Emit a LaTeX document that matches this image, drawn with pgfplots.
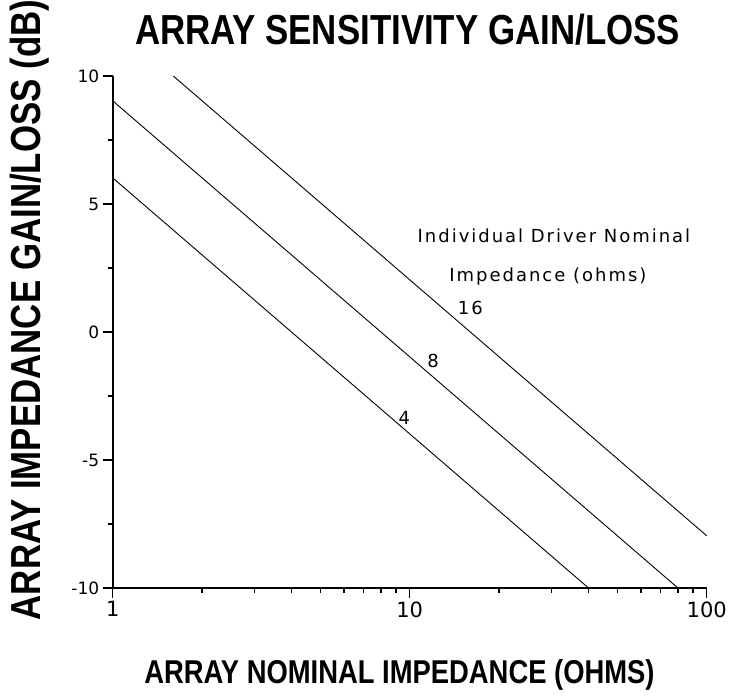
\documentclass[border=0pt]{standalone}
\usepackage{graphicx}
\usepackage{pgfplots}
\pgfplotsset{compat=1.18}
\usepackage{fontspec}
\setmainfont{Liberation Sans}
\newfontfamily\dejavu{DejaVu Sans}
\newfontfamily\dejavusp[LetterSpace=11]{DejaVu Sans}
\begin{document}
\begin{tikzpicture}[x=1pt,y=1pt]
\path[use as bounding box] (-112.7,-110) rectangle (617.3,588);
\begin{axis}[at={(0,0)}, anchor=south west, scale only axis, width=594pt, height=512pt,
 xmode=log, xmin=1, xmax=100, ymin=-10, ymax=10,
 axis x line=bottom, axis y line=left, axis line style={-, line width=1.9pt},
 xtick={1,10,100}, xticklabels={1,10,100},
 minor xtick={2,3,4,5,6,7,8,9,20,30,40,50,60,70,80,90},
 ytick={-10,-5,0,5,10}, yticklabels={-10,-5,0,5,10},
 minor ytick={-7.5,-2.5,2.5,7.5},
 tick align=outside, major tick length=10pt, minor tick length=5pt,
 tick style={line width=1.5pt, black},
 xticklabel style={font=\dejavu\fontsize{21}{21}\selectfont},
 yticklabel style={font=\dejavu\fontsize{17}{17}\selectfont},
 clip=false]
\addplot[black, line width=0.9pt] coordinates {(1,6.02) (40,-10)};
\addplot[black, line width=0.9pt] coordinates {(1,9.03) (80,-10)};
\addplot[black, line width=0.9pt] coordinates {(1.6,10) (100,-7.96)};
\node[font=\dejavusp\fontsize{18}{18}\selectfont] at (axis cs:30.6,3.75) {Individual Driver Nominal};
\node[font=\dejavusp\fontsize{18}{18}\selectfont] at (axis cs:29.2,2.15) {Impedance (ohms)};
\node[font=\dejavusp\fontsize{18}{18}\selectfont] at (axis cs:16,0.94) {16};
\node[font=\dejavusp\fontsize{18}{18}\selectfont] at (axis cs:12,-1.13) {8};
\node[font=\dejavusp\fontsize{18}{18}\selectfont] at (axis cs:9.6,-3.36) {4};
\end{axis}
\node[font=\bfseries\fontsize{42}{42}\selectfont] at (294.8,558) {\scalebox{0.83}[1]{ARRAY SENSITIVITY GAIN/LOSS}};
\node[font=\bfseries\fontsize{33}{33}\selectfont] at (286.8,-87) {\scalebox{0.83}[1]{ARRAY NOMINAL IMPEDANCE (OHMS)}};
\node[font=\bfseries\fontsize{42}{42}\selectfont, rotate=90] at (-82.7,278) {\scalebox{0.83}[1]{ARRAY IMPEDANCE GAIN/LOSS (dB)}};
\end{tikzpicture}
\end{document}
